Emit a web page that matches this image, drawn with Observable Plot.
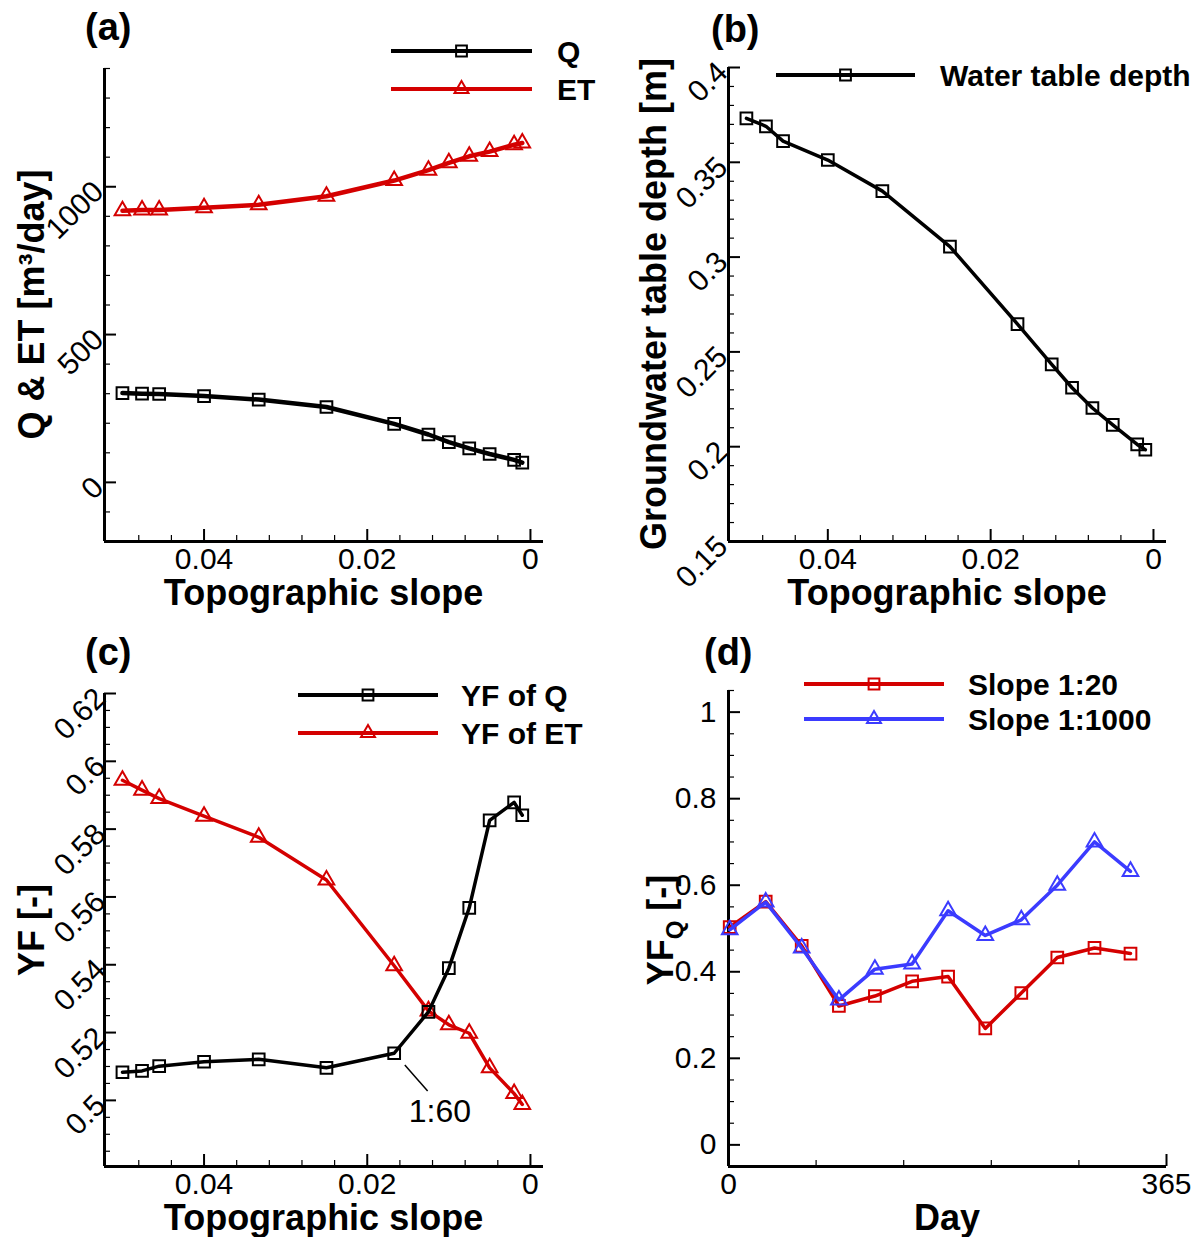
<!DOCTYPE html>
<html><head><meta charset="utf-8">
<script src="https://cdn.jsdelivr.net/npm/d3@7"></script>
<script src="https://cdn.jsdelivr.net/npm/@observablehq/plot@0.6"></script>
<style>
body{margin:0;background:#fff;}
#root{position:relative;width:1201px;height:1237px;overflow:hidden;background:#fff;}
.panel{position:absolute;}
.panel svg{overflow:visible;}
#overlay{position:absolute;left:0;top:0;pointer-events:none;}
</style></head>
<body><div id="root"></div>
<script>
// ---------- data ----------
const slopes = [0.05, 0.0476, 0.0455, 0.04, 0.0333, 0.025, 0.0167, 0.0125, 0.01, 0.0075, 0.005, 0.002, 0.001];
const qValues = [302, 300, 299, 292, 280, 255, 198, 162, 136, 115, 96, 76, 67];
const etValues = [919, 921, 921, 929, 939, 968, 1021, 1056, 1081, 1103, 1119, 1142, 1148];
const wtDepth = [0.3732, 0.3690, 0.3612, 0.3512, 0.3348, 0.3055, 0.2647, 0.2434, 0.2311, 0.2204, 0.2115, 0.2012, 0.1984];
const yfQ = [0.5083, 0.5087, 0.5101, 0.5114, 0.5121, 0.5096, 0.5139, 0.5261, 0.5390, 0.5568, 0.5826, 0.5879, 0.5841];
const yfET = [0.5944, 0.5915, 0.5890, 0.5838, 0.5776, 0.5650, 0.5397, 0.5264, 0.5223, 0.5198, 0.5096, 0.5020, 0.4988];
const days = [1, 31, 61, 92, 122, 153, 183, 214, 244, 274, 305, 335];
const yfQSlope20 = [0.503, 0.562, 0.460, 0.321, 0.344, 0.378, 0.389, 0.269, 0.351, 0.433, 0.455, 0.442];
const yfQSlope1000 = [0.497, 0.561, 0.455, 0.335, 0.406, 0.418, 0.541, 0.484, 0.520, 0.600, 0.700, 0.632];

// annotation in (c)
const annotLabel = ["1:60"];
const annotLabelX = [0.0111];
const annotLabelY = [0.4966];
const annotLine = {x1: [0.0154], y1: [0.5104], x2: [0.0126], y2: [0.5028]};

// axis domains & ticks
const slopeDomain = [0.0522, -0.0016];
const slopeMajor = [0.04, 0.02, 0];
const slopeMinor = [0.048, 0.044, 0.036, 0.032, 0.028, 0.024, 0.016, 0.012, 0.008, 0.004];
const aYDomain = [-200, 1400];
const aYMajor = [0, 500, 1000];
const aYMinor = [-100, 100, 200, 300, 400, 600, 700, 800, 900, 1100, 1200, 1300, 1400];
const bYDomain = [0.15, 0.4];
const bYMajor = [0.15, 0.2, 0.25, 0.3, 0.35, 0.4];
const bYMinor = [0.16, 0.17, 0.18, 0.19, 0.21, 0.22, 0.23, 0.24, 0.26, 0.27, 0.28, 0.29, 0.31, 0.32, 0.33, 0.34, 0.36, 0.37, 0.38, 0.39];
const cYDomain = [0.4805, 0.62];
const cYMajor = [0.5, 0.52, 0.54, 0.56, 0.58, 0.6, 0.62];
const cYMinor = [0.485, 0.49, 0.495, 0.505, 0.51, 0.515, 0.525, 0.53, 0.535, 0.545, 0.55, 0.555, 0.565, 0.57, 0.575, 0.585, 0.59, 0.595, 0.605, 0.61, 0.615];
const dXDomain = [0, 365];
const dXMajor = [0, 365];
const dXMinor = [73, 146, 219, 292];
const dYDomain = [-0.05, 1.05];
const dYMajor = [0, 0.2, 0.4, 0.6, 0.8, 1];
const dYMinor = [0.05, 0.1, 0.15, 0.25, 0.3, 0.35, 0.45, 0.5, 0.55, 0.65, 0.7, 0.75, 0.85, 0.9, 0.95, 1.05];

// ---------- styles ----------
const FONT = '"Liberation Sans", Arial, Helvetica, sans-serif';
const RED = "#d40000", BLUE = "#3b3bff", BLACK = "#000000";
const fmt = d => String(d);

const slopeRows = slopes.map((s, i) => ({slope: s, q: qValues[i], et: etValues[i], wt: wtDepth[i], yfq: yfQ[i], yfet: yfET[i]}));
const dayRows = days.map((d, i) => ({day: d, s20: yfQSlope20[i], s1000: yfQSlope1000[i]}));

const root = document.getElementById("root");

function panel(cfg) {
  const {left, top, width, height, mL, mR, mT, mB, xDomain, yDomain, xMajor, xMinor, yMajor, yMinor, yRotate, yPad, marks} = cfg;
  const MAJ = 12, MIN = 6;
  const chart = Plot.plot({
    width, height,
    marginLeft: mL, marginRight: mR, marginTop: mT, marginBottom: mB,
    style: {fontFamily: FONT, fontSize: "30px", color: "#000", background: "transparent", overflow: "visible"},
    x: {domain: xDomain},
    y: {domain: yDomain},
    marks: [
      Plot.axisX(xMajor, {anchor: "bottom", tickSize: 0, tickPadding: 6, tickFormat: fmt, label: null, fontSize: 30}),
      Plot.axisX(xMajor, {anchor: "bottom", tickSize: MAJ, dy: -MAJ, strokeWidth: 2, tickFormat: () => "", label: null}),
      Plot.axisX(xMinor, {anchor: "bottom", tickSize: MIN, dy: -MIN, strokeWidth: 1.2, tickFormat: () => "", label: null}),
      Plot.axisY(yMajor, {anchor: "left", tickSize: 0, tickPadding: yPad, tickRotate: yRotate, tickFormat: fmt, label: null, fontSize: 30}),
      Plot.axisY(yMajor, {anchor: "left", tickSize: MAJ, dx: MAJ, strokeWidth: 2, tickFormat: () => "", label: null}),
      Plot.axisY(yMinor, {anchor: "left", tickSize: MIN, dx: MIN, strokeWidth: 1.2, tickFormat: () => "", label: null}),
      Plot.ruleX([xDomain[0]], {strokeWidth: 3}),
      Plot.ruleY([yDomain[0]], {strokeWidth: 3}),
      ...marks
    ]
  });
  const div = document.createElement("div");
  div.className = "panel";
  div.style.left = left + "px";
  div.style.top = top + "px";
  div.appendChild(chart);
  root.appendChild(div);
}

const sqR = 6.6, triR = 5.8;
function series(data, x, y, color, symbol, lw) {
  return [
    Plot.line(data, {x, y, stroke: color, strokeWidth: lw}),
    Plot.dot(data, {x, y, stroke: color, fill: "none", strokeWidth: 2, symbol, r: symbol === "square" ? sqR : triR})
  ];
}

// (a)
panel({left: 0, top: 0, width: 600, height: 620, mL: 104, mR: 57, mT: 68, mB: 79,
  xDomain: slopeDomain, yDomain: aYDomain, xMajor: slopeMajor, xMinor: slopeMinor,
  yMajor: aYMajor, yMinor: aYMinor, yRotate: -45, yPad: 6,
  marks: [...series(slopeRows, "slope", "q", BLACK, "square", 4.5), ...series(slopeRows, "slope", "et", RED, "triangle", 4.5)]});
// (b)
panel({left: 600, top: 0, width: 601, height: 620, mL: 128, mR: 35, mT: 67, mB: 79,
  xDomain: slopeDomain, yDomain: bYDomain, xMajor: slopeMajor, xMinor: slopeMinor,
  yMajor: bYMajor, yMinor: bYMinor, yRotate: -45, yPad: 6,
  marks: [...series(slopeRows, "slope", "wt", BLACK, "square", 3.5)]});
// (c)
panel({left: 0, top: 620, width: 600, height: 617, mL: 104, mR: 57, mT: 73, mB: 71,
  xDomain: slopeDomain, yDomain: cYDomain, xMajor: slopeMajor, xMinor: slopeMinor,
  yMajor: cYMajor, yMinor: cYMinor, yRotate: -45, yPad: 4,
  marks: [
    ...series(slopeRows, "slope", "yfet", RED, "triangle", 3.5),
    ...series(slopeRows, "slope", "yfq", BLACK, "square", 3.5),
    Plot.link(annotLine.x1.map((_, i) => i), {x1: i => annotLine.x1[i], y1: i => annotLine.y1[i], x2: i => annotLine.x2[i], y2: i => annotLine.y2[i], stroke: "#000", strokeWidth: 1.5}),
    Plot.text(annotLabel, {x: (d, i) => annotLabelX[i], y: (d, i) => annotLabelY[i], text: d => d, fontSize: 32, fill: "#000"})
  ]});
// (d)
panel({left: 600, top: 620, width: 601, height: 617, mL: 128, mR: 35, mT: 70, mB: 71,
  xDomain: dXDomain, yDomain: dYDomain, xMajor: dXMajor, xMinor: dXMinor,
  yMajor: dYMajor, yMinor: dYMinor, yRotate: 0, yPad: 12,
  marks: [...series(dayRows, "day", "s20", RED, "square", 3.5), ...series(dayRows, "day", "s1000", BLUE, "triangle", 3.5)]});

// ---------- overlay: panel letters, axis titles, legends ----------
const svg = d3.select(root).append("svg").attr("id", "overlay")
  .attr("width", 1201).attr("height", 1237)
  .style("font-family", FONT).style("font-weight", "bold");

const panelLetters = [["(a)", 85, 40], ["(b)", 711, 42], ["(c)", 85, 665], ["(d)", 704, 665]];
panelLetters.forEach(([t, x, y]) => svg.append("text").attr("x", x).attr("y", y).attr("font-size", 38).text(t));

const xTitles = [["Topographic slope", 323.5, 605], ["Topographic slope", 947, 605], ["Topographic slope", 323.5, 1230], ["Day", 947, 1230]];
xTitles.forEach(([t, x, y]) => svg.append("text").attr("x", x).attr("y", y).attr("text-anchor", "middle").attr("font-size", 36).text(t));

function yTitle(x, y, build) {
  const t = svg.append("text").attr("transform", `translate(${x},${y}) rotate(-90)`).attr("text-anchor", "middle").attr("font-size", 36);
  build(t);
}
yTitle(44, 304.5, t => t.text("Q & ET [m³/day]"));
yTitle(666, 304, t => t.text("Groundwater table depth [m]"));
yTitle(44, 930, t => t.text("YF [-]"));
yTitle(673, 930, t => {
  t.append("tspan").text("YF");
  t.append("tspan").attr("font-size", 24).attr("dy", 10).text("Q");
  t.append("tspan").attr("dy", -10).text(" [-]");
});

const legendItems = [
  {x1: 391, x2: 532, y: 51, color: BLACK, sym: "square", text: "Q", tx: 557, lw: 4},
  {x1: 391, x2: 532, y: 89, color: RED, sym: "triangle", text: "ET", tx: 557, lw: 4},
  {x1: 776, x2: 915, y: 75, color: BLACK, sym: "square", text: "Water table depth", tx: 940, lw: 4},
  {x1: 298, x2: 438, y: 695, color: BLACK, sym: "square", text: "YF of Q", tx: 461, lw: 4},
  {x1: 298, x2: 438, y: 733, color: RED, sym: "triangle", text: "YF of ET", tx: 461, lw: 4},
  {x1: 804, x2: 944, y: 684, color: RED, sym: "square", text: "Slope 1:20", tx: 968, lw: 4},
  {x1: 804, x2: 944, y: 719, color: BLUE, sym: "triangle", text: "Slope 1:1000", tx: 968, lw: 4}
];
legendItems.forEach(it => {
  svg.append("line").attr("x1", it.x1).attr("x2", it.x2).attr("y1", it.y).attr("y2", it.y)
    .attr("stroke", it.color).attr("stroke-width", it.lw);
  const cx = (it.x1 + it.x2) / 2;
  const sym = d3.symbol(it.sym === "square" ? d3.symbolSquare : d3.symbolTriangle,
    it.sym === "square" ? Math.PI * sqR * sqR * 0.85 : Math.PI * triR * triR * 0.8);
  svg.append("path").attr("d", sym()).attr("transform", `translate(${cx},${it.y})`)
    .attr("fill", "none").attr("stroke", it.color).attr("stroke-width", 2);
  svg.append("text").attr("x", it.tx).attr("y", it.y + 10.7).attr("font-size", 30).text(it.text);
});
</script>
</body></html>
